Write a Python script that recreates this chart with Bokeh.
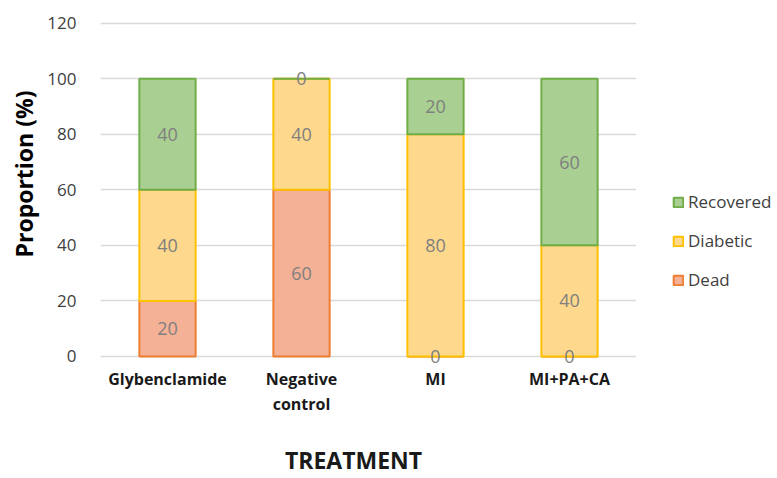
from bokeh.plotting import figure
from bokeh.layouts import row
from bokeh.models import Legend, LegendItem, ColumnDataSource, FixedTicker, Title
from bokeh.core.properties import value
from bokeh.embed import file_html
from bokeh.resources import INLINE

# Outcome proportions (%) per treatment group
treatments = ["Glybenclamide", "Negative\ncontrol", "MI", "MI+PA+CA"]
dead = [20, 60, 0, 0]
diabetic = [40, 40, 80, 40]
recovered = [40, 0, 20, 60]
y_ticks = [0, 20, 40, 60, 80, 100, 120]

outcomes = ["dead", "diabetic", "recovered"]
labels = ["Dead", "Diabetic", "Recovered"]
fills = ["#f4b196", "#fed88c", "#aacf92"]
lines = ["#ed7d31", "#ffc000", "#70ad47"]

FONT = "Open Sans"

source = ColumnDataSource(dict(treatment=treatments, dead=dead,
                               diabetic=diabetic, recovered=recovered))

p = figure(x_range=treatments, y_range=(-4, 121), width=650, height=478,
           output_backend="svg", toolbar_location=None,
           min_border_left=100, min_border_right=14,
           min_border_top=20, min_border_bottom=110)

p.vbar_stack(outcomes, x="treatment", width=0.42, source=source,
             fill_color=fills, line_color=lines, line_width=2)

# value labels centred in each stacked segment
lab_x, lab_y, lab_t = [], [], []
for i, t in enumerate(treatments):
    base = 0
    for series in (dead, diabetic, recovered):
        v = series[i]
        lab_x.append(t)
        lab_y.append(base + v / 2)
        lab_t.append(str(v))
        base += v
p.text(x=lab_x, y=lab_y, text=lab_t, text_align="center", text_baseline="middle",
       text_color="#7f7f7f", text_font_size="18px", text_font=value(FONT))

p.outline_line_color = None
p.xgrid.grid_line_color = None
p.ygrid.grid_line_color = "#d9d9d9"
p.ygrid.grid_line_width = 1.5

p.yaxis.ticker = FixedTicker(ticks=y_ticks)
p.yaxis.axis_line_color = None
p.yaxis.major_tick_line_color = None
p.yaxis.minor_tick_line_color = None
p.yaxis.major_label_standoff = 18
p.yaxis.major_label_text_font = FONT
p.yaxis.major_label_text_font_size = "17px"
p.yaxis.major_label_text_color = "#404040"

p.xaxis.axis_line_color = None
p.xaxis.major_tick_line_color = None
p.xaxis.major_label_standoff = -6
p.xaxis.major_label_text_font = FONT
p.xaxis.major_label_text_font_size = "16px"
p.xaxis.major_label_text_font_style = "bold"
p.xaxis.major_label_text_line_height = 1.15
p.xaxis.major_label_text_color = "#1a1a1a"

# x title sits a little left of the plot centre, hence the trailing no-break spaces
p.xaxis.axis_label = "TREATMENT" + "\u00a0" * 5
p.xaxis.axis_label_standoff = 26
p.xaxis.axis_label_text_font = FONT
p.xaxis.axis_label_text_font_size = "23px"
p.xaxis.axis_label_text_font_style = "bold"
p.xaxis.axis_label_text_color = "#1a1a1a"

p.add_layout(Title(text="Proportion (%)", align="left", offset=110, standoff=10,
                   text_font=FONT, text_font_size="23px", text_font_style="bold",
                   text_color="#000000"), "left")

# legend panel to the right of the chart
leg = figure(width=127, height=478, output_backend="svg", toolbar_location=None,
             min_border=0, x_range=(0, 1), y_range=(0, 1))
leg.axis.visible = False
leg.grid.grid_line_color = None
leg.outline_line_color = None
swatches = {}
for name, fc, lc in zip(labels, fills, lines):
    r = leg.vbar(x=[0], top=[0], width=0, fill_color=fc, line_color=lc, line_width=2)
    r.visible = False
    swatches[name] = r

legend = Legend(items=[LegendItem(label=n, renderers=[swatches[n]])
                       for n in reversed(labels)],
                location=(22, 76), orientation="vertical")
legend.border_line_color = None
legend.background_fill_alpha = 0
legend.inactive_fill_alpha = 0
legend.padding = 0
legend.margin = 0
legend.glyph_width = 12
legend.glyph_height = 12
legend.label_height = 20
legend.spacing = 16
legend.label_standoff = 4
legend.label_text_font = FONT
legend.label_text_font_size = "17px"
legend.label_text_color = "#404040"
leg.add_layout(legend)

open("out.html", "w").write(file_html(row(p, leg), INLINE))
